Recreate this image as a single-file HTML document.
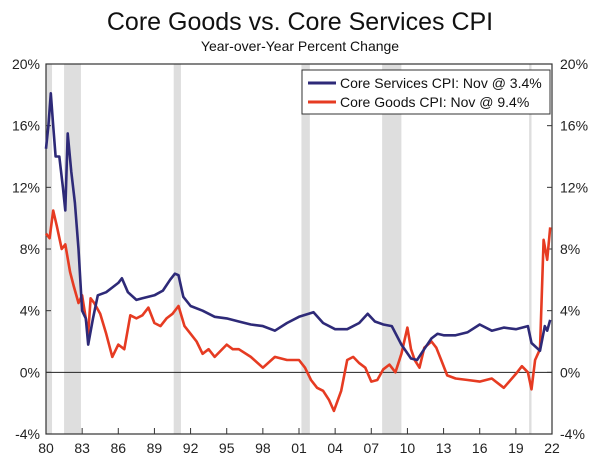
<!DOCTYPE html>
<html><head><meta charset="utf-8"><style>
body{margin:0;background:#fff;font-family:"Liberation Sans",sans-serif}
</style></head><body>
<svg id="chart" width="600" height="461" xmlns="http://www.w3.org/2000/svg" font-family="Liberation Sans, sans-serif">
<text x="300" y="30" text-anchor="middle" font-size="25" fill="#111">Core Goods vs. Core Services CPI</text>
<text x="300" y="51" text-anchor="middle" font-size="14" fill="#111">Year-over-Year Percent Change</text>
<g id="rec"></g><g id="axes"></g><g id="lines"></g>
<g>
<rect x="302" y="70" width="248" height="44" fill="#fff" stroke="#333" stroke-width="1"/>
<line x1="308" y1="83" x2="336" y2="83" stroke="#2e2a78" stroke-width="3"/>
<text x="340" y="88" font-size="14" fill="#111">Core Services CPI: Nov @ 3.4%</text>
<line x1="308" y1="102" x2="336" y2="102" stroke="#e63b22" stroke-width="3"/>
<text x="340" y="107" font-size="14" fill="#111">Core Goods CPI: Nov @ 9.4%</text>
</g>
</svg>
<script>
const yTicks=[-4,0,4,8,12,16,20];
const xTicks=[1980,1983,1986,1989,1992,1995,1998,2001,2004,2007,2010,2013,2016,2019,2022];
const xTickLabels=["80","83","86","89","92","95","98","01","04","07","10","13","16","19","22"];
const recessions=[[1980.0,1980.5],[1981.5,1982.9],[1990.6,1991.2],[2001.2,2001.9],[2007.9,2009.5],[2020.1,2020.3]];
const svcYears=[1980,1980.2,1980.4,1980.6,1980.8,1981.1,1981.4,1981.6,1981.8,1982.1,1982.4,1982.7,1983,1983.3,1983.5,1983.9,1984.3,1985,1985.5,1986,1986.3,1986.8,1987.5,1988,1989,1989.7,1990.3,1990.7,1991,1991.4,1992,1993,1994,1995,1996,1997,1998,1999,2000,2001,2002.2,2003,2004,2005,2006,2006.7,2007.3,2008,2008.7,2009.5,2010.3,2010.8,2011.3,2012,2012.5,2013,2014,2015,2016,2017,2018,2019,2020,2020.3,2021,2021.4,2021.6,2021.85];
const svcVals=[14.5,16,18.1,16,14,14,12,10.5,15.5,13,11,8,4,3.5,1.8,3.5,5,5.2,5.5,5.8,6.1,5.2,4.7,4.8,5.0,5.3,6.0,6.4,6.3,4.9,4.3,4.0,3.6,3.5,3.3,3.1,3.0,2.7,3.2,3.6,3.9,3.2,2.8,2.8,3.2,3.8,3.3,3.1,3.0,1.8,0.9,0.8,1.4,2.2,2.5,2.4,2.4,2.6,3.1,2.7,2.9,2.8,3.0,1.9,1.4,3.0,2.7,3.4];
const gdsYears=[1980,1980.3,1980.6,1980.9,1981.3,1981.6,1982,1982.3,1982.7,1983,1983.3,1983.5,1983.7,1984,1984.5,1985,1985.5,1986,1986.5,1987,1987.5,1988,1988.5,1989,1989.5,1990,1990.5,1991,1991.5,1992,1992.5,1993,1993.5,1994,1995,1995.5,1996,1997,1998,1999,2000,2001,2001.5,2002,2002.5,2003,2003.5,2003.9,2004.5,2005,2005.5,2006,2006.5,2007,2007.5,2008,2008.5,2009,2009.5,2010,2010.3,2010.6,2011,2011.4,2011.7,2012,2012.4,2012.8,2013.3,2014,2015,2016,2017,2018,2019,2019.5,2020,2020.3,2020.6,2021,2021.3,2021.6,2021.85];
const gdsVals=[9.0,8.7,10.5,9.5,8,8.3,6.5,5.6,4.5,5,3.5,2.5,4.8,4.5,3.8,2.5,1.0,1.8,1.5,3.7,3.5,3.7,4.2,3.2,3.0,3.5,3.8,4.3,3.0,2.5,2.0,1.2,1.5,1.0,1.8,1.5,1.5,1.0,0.3,1.0,0.8,0.8,0.3,-0.5,-1.0,-1.2,-1.8,-2.5,-1.2,0.8,1.0,0.6,0.3,-0.6,-0.5,0.2,0.5,0,1.2,2.9,1.5,0.8,0.3,1.6,1.8,2.0,1.6,0.8,-0.2,-0.4,-0.5,-0.6,-0.4,-1.0,-0.1,0.4,0,-1.1,0.8,1.5,8.6,7.3,9.4];
const L=46,R=552,T=64,B=434;
const x=v=>L+(v-1980)*(R-L)/42;
const y=v=>T+(20-v)*(B-T)/24;
const NS="http://www.w3.org/2000/svg";
function mk(tag,parent,attrs){const e=document.createElementNS(NS,tag);for(const k in attrs)e.setAttribute(k,attrs[k]);document.getElementById(parent).appendChild(e);return e;}
recessions.forEach(r=>{const e=mk('rect','rec',{x:x(r[0]),y:T,width:x(r[1])-x(r[0]),height:B-T,fill:'#dedede'});

});
let e=mk('rect','axes',{x:L,y:T,width:R-L,height:B-T,fill:'none',stroke:'#333','stroke-width':1.2});


e=mk('line','axes',{x1:L,x2:R,y1:y(0),y2:y(0),stroke:'#222','stroke-width':1});


yTicks.forEach(t=>{
 mk('line','axes',{x1:L,x2:L+5,y1:y(t),y2:y(t),stroke:'#333'});
 mk('line','axes',{x1:R-5,x2:R,y1:y(t),y2:y(t),stroke:'#333'});
 let a=mk('text','axes',{x:L-6,y:y(t)+5,'text-anchor':'end','font-size':14,fill:'#222'});a.textContent=t+'%';
 
 
 let b=mk('text','axes',{x:R+8,y:y(t)+5,'font-size':14,fill:'#222'});b.textContent=t+'%';
 
 
});
xTicks.forEach((t,i)=>{
 mk('line','axes',{x1:x(t),x2:x(t),y1:B-6,y2:B,stroke:'#333'});
 let a=mk('text','axes',{x:x(t),y:B+19,'text-anchor':'middle','font-size':14,fill:'#222'});a.textContent=xTickLabels[i];
 
 
});
function line(xs,vs,c,name){const p=xs.map((v,i)=>(i?'L':'M')+x(v).toFixed(1)+','+y(vs[i]).toFixed(1)).join('');
 const e=mk('path','lines',{d:p,fill:'none',stroke:c,'stroke-width':2.6,'stroke-linejoin':'round'});
 
 }
line(gdsYears,gdsVals,'#e63b22','core-goods-line');
line(svcYears,svcVals,'#2e2a78','core-services-line');
</script>
</body></html>
